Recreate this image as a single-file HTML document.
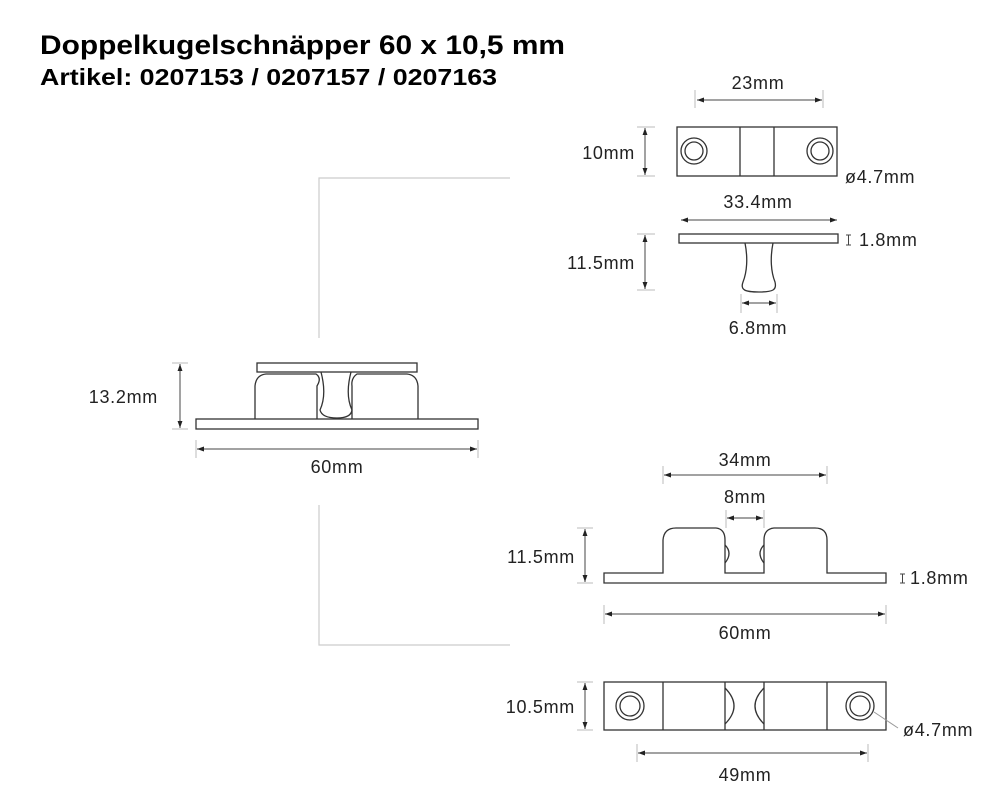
<!DOCTYPE html>
<html><head><style>
body{margin:0;background:#fff;}
svg{display:block;}
text{font-family:"Liberation Sans",Arial,sans-serif;fill:#222;}
.t{font-size:18px;letter-spacing:0.7px;}
</style></head><body>
<svg width="1000" height="803" viewBox="0 0 1000 803" xmlns="http://www.w3.org/2000/svg">
<defs>
<marker id="a" viewBox="0 0 10 10" refX="10" refY="5" markerWidth="7" markerHeight="7" orient="auto-start-reverse"><path d="M0,1.5 L10,5 L0,8.5z" fill="#222"/></marker>
</defs>
<text x="40" y="54" font-size="27" font-weight="bold" textLength="525" lengthAdjust="spacingAndGlyphs" style="fill:#000">Doppelkugelschnäpper 60 x 10,5 mm</text>
<text x="40" y="85" font-size="23" font-weight="bold" textLength="457" lengthAdjust="spacingAndGlyphs" style="fill:#000">Artikel: 0207153 / 0207157 / 0207163</text>

<g stroke="#ccc" stroke-width="1.2" fill="none">
<path d="M510,178 H319 V338"/>
<path d="M319,505 V645 H510"/>
</g>

<g stroke="#333" stroke-width="1.3" fill="none">
<rect x="677" y="127" width="160" height="49"/>
<line x1="740" y1="127" x2="740" y2="176"/><line x1="774" y1="127" x2="774" y2="176"/>
<circle cx="694" cy="151" r="13"/><circle cx="694" cy="151" r="9"/>
<circle cx="820" cy="151" r="13"/><circle cx="820" cy="151" r="9"/>
<rect x="679" y="234" width="159" height="9"/>
<path d="M745,243 C748,258 747,272 743,282 C740,290 745,292 759,292 C773,292 777,290 775,282 C771,272 770,258 773,243"/>
<rect x="196" y="419" width="282" height="10"/>
<rect x="257" y="363" width="160" height="9"/>
<path d="M255,419 V386 Q256,375 266,374 H316 Q322,378 317,386 V419"/>
<path d="M418,419 V386 Q417,375 407,374 H357 Q351,378 352,386 V419"/>
<path d="M321,372 Q327,395 320,410 Q322,418 337,418 Q351,418 352,410 Q345,395 351,372"/>
<path d="M604,573 H663 V540 Q664,528 676,528 H716 Q725,529 725,540 V573 H764 V540 Q764,529 774,528 H815 Q827,528 827,540 V573 H886 V583 H604 Z"/>
<path d="M725,545 Q733,553 725,563"/><path d="M764,545 Q756,553 764,563"/>
<rect x="604" y="682" width="282" height="48"/>
<line x1="663" y1="682" x2="663" y2="730"/><line x1="725" y1="682" x2="725" y2="730"/>
<line x1="764" y1="682" x2="764" y2="730"/><line x1="827" y1="682" x2="827" y2="730"/>
<path d="M725,688 Q743,706 725,724"/><path d="M764,688 Q746,706 764,724"/>
<circle cx="630" cy="706" r="14"/><circle cx="630" cy="706" r="10"/>
<circle cx="860" cy="706" r="14"/><circle cx="860" cy="706" r="10"/>
</g>

<g stroke="#444" stroke-width="1" fill="none">
<line x1="697" y1="100" x2="822" y2="100" marker-start="url(#a)" marker-end="url(#a)"/>
<line x1="695" y1="90" x2="695" y2="108" stroke="#bbb"/><line x1="823" y1="90" x2="823" y2="108" stroke="#bbb"/>
<line x1="645" y1="128" x2="645" y2="175" marker-start="url(#a)" marker-end="url(#a)"/>
<line x1="637" y1="127" x2="655" y2="127" stroke="#bbb"/><line x1="637" y1="176" x2="655" y2="176" stroke="#bbb"/>
<line x1="681" y1="220" x2="837" y2="220" marker-start="url(#a)" marker-end="url(#a)"/>
<line x1="645" y1="235" x2="645" y2="289" marker-start="url(#a)" marker-end="url(#a)"/>
<line x1="637" y1="234" x2="655" y2="234" stroke="#bbb"/><line x1="637" y1="290" x2="655" y2="290" stroke="#bbb"/>
<line x1="742" y1="303" x2="776" y2="303" marker-start="url(#a)" marker-end="url(#a)"/>
<line x1="741" y1="294" x2="741" y2="313" stroke="#bbb"/><line x1="777" y1="294" x2="777" y2="313" stroke="#bbb"/>
<path d="M846,235 h5 M848.5,235 v10 M846,245 h5"/>
<line x1="180" y1="364" x2="180" y2="428" marker-start="url(#a)" marker-end="url(#a)"/>
<line x1="172" y1="363" x2="188" y2="363" stroke="#bbb"/><line x1="172" y1="429" x2="188" y2="429" stroke="#bbb"/>
<line x1="197" y1="449" x2="477" y2="449" marker-start="url(#a)" marker-end="url(#a)"/>
<line x1="196" y1="440" x2="196" y2="458" stroke="#bbb"/><line x1="478" y1="440" x2="478" y2="458" stroke="#bbb"/>
<line x1="664" y1="475" x2="826" y2="475" marker-start="url(#a)" marker-end="url(#a)"/>
<line x1="663" y1="466" x2="663" y2="484" stroke="#bbb"/><line x1="827" y1="466" x2="827" y2="484" stroke="#bbb"/>
<line x1="727" y1="518" x2="763" y2="518" marker-start="url(#a)" marker-end="url(#a)"/>
<line x1="726" y1="510" x2="726" y2="528" stroke="#bbb"/><line x1="764" y1="510" x2="764" y2="528" stroke="#bbb"/>
<line x1="585" y1="529" x2="585" y2="582" marker-start="url(#a)" marker-end="url(#a)"/>
<line x1="577" y1="528" x2="593" y2="528" stroke="#bbb"/><line x1="577" y1="583" x2="593" y2="583" stroke="#bbb"/>
<path d="M900,574 h5 M902.5,574 v9 M900,583 h5"/>
<line x1="605" y1="614" x2="885" y2="614" marker-start="url(#a)" marker-end="url(#a)"/>
<line x1="604" y1="605" x2="604" y2="624" stroke="#bbb"/><line x1="886" y1="605" x2="886" y2="624" stroke="#bbb"/>
<line x1="585" y1="683" x2="585" y2="729" marker-start="url(#a)" marker-end="url(#a)"/>
<line x1="577" y1="682" x2="593" y2="682" stroke="#bbb"/><line x1="577" y1="730" x2="593" y2="730" stroke="#bbb"/>
<line x1="638" y1="753" x2="867" y2="753" marker-start="url(#a)" marker-end="url(#a)"/>
<line x1="637" y1="744" x2="637" y2="762" stroke="#bbb"/><line x1="868" y1="744" x2="868" y2="762" stroke="#bbb"/>
<line x1="874" y1="712" x2="898" y2="728" stroke="#999"/>
</g>

<g class="t">
<text x="758" y="89" text-anchor="middle">23mm</text>
<text x="635" y="159" text-anchor="end">10mm</text>
<text x="845" y="183">ø4.7mm</text>
<text x="758" y="208" text-anchor="middle">33.4mm</text>
<text x="859" y="246">1.8mm</text>
<text x="635" y="269" text-anchor="end">11.5mm</text>
<text x="758" y="334" text-anchor="middle">6.8mm</text>
<text x="158" y="403" text-anchor="end">13.2mm</text>
<text x="337" y="473" text-anchor="middle">60mm</text>
<text x="745" y="466" text-anchor="middle">34mm</text>
<text x="745" y="503" text-anchor="middle">8mm</text>
<text x="575" y="563" text-anchor="end">11.5mm</text>
<text x="910" y="584">1.8mm</text>
<text x="745" y="639" text-anchor="middle">60mm</text>
<text x="575" y="713" text-anchor="end">10.5mm</text>
<text x="903" y="736">ø4.7mm</text>
<text x="745" y="781" text-anchor="middle">49mm</text>
</g>
</svg>
</body></html>
